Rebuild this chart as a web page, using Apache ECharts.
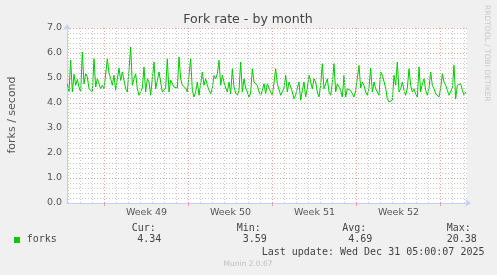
<!DOCTYPE html>
<html><head><meta charset="utf-8">
<script src="https://cdn.jsdelivr.net/npm/echarts@6/dist/echarts.min.js"></script>
<style>html,body{margin:0;padding:0;background:#f0f0f0;}#c{width:497px;height:275px;}</style>
</head><body><div id="c"></div>
<script>
// Hours relative to Mon Dec 1 2025 00:00; graph ends at Dec 31 05:00 (725 h), spans 800 h
const xMin = -75, xMax = 725;
const firstHour = -74.33, stepHours = 10 / 3;
const weekLabels = ['Week 49', 'Week 50', 'Week 51', 'Week 52'];
const weekLabelHours = [84, 252, 420, 588];
const weekBoundaryHours = [0, 168, 336, 504, 672];
const yTicks = [0, 1, 2, 3, 4, 5, 6, 7];
const forks = [
4.77,4.44,5.72,4.44,5.15,4.71,4.95,4.64,4.44,6.04,4.77,5.17,5.04,4.57,4.64,4.44,5.77,4.64,4.97,4.91,
4.57,4.71,4.57,4.50,5.77,5.20,4.97,4.71,5.11,4.51,4.44,5.40,4.90,5.24,5.17,4.57,4.44,4.37,6.24,4.71,
4.97,5.17,4.57,4.31,4.24,4.60,5.44,4.44,4.97,4.84,4.31,4.37,5.64,4.57,4.90,5.24,4.84,4.44,4.44,4.60,
5.77,4.44,4.91,4.84,4.64,4.57,4.60,5.84,4.97,4.71,4.77,4.60,4.44,4.37,5.77,4.51,4.24,4.44,4.84,4.31,
4.24,5.24,4.71,4.97,4.71,4.51,4.37,4.60,5.10,4.97,5.17,5.71,4.71,5.11,4.84,4.60,4.44,4.84,4.37,5.37,
4.64,4.40,4.31,4.50,5.64,4.44,4.97,4.60,4.44,4.24,4.40,5.37,4.84,4.91,4.70,4.44,4.31,4.50,4.77,
4.37,4.77,4.77,4.44,4.31,4.80,5.37,4.77,4.84,4.31,4.24,4.60,5.11,4.44,4.84,4.91,4.44,4.17,4.31,4.60,
4.84,4.11,4.50,4.84,4.24,4.60,5.11,5.17,4.57,4.97,4.84,4.44,4.24,4.70,5.57,4.57,4.64,4.97,4.44,4.31,
4.80,5.57,4.44,4.77,4.84,4.51,4.24,5.11,4.24,4.57,4.51,4.50,4.44,4.24,4.50,5.00,5.50,4.60,4.84,4.70,
4.44,4.31,4.60,5.40,4.44,4.84,4.57,4.44,4.31,5.24,5.11,5.17,4.60,4.17,4.04,4.04,4.11,5.11,4.71,5.64,
4.44,4.57,4.84,4.51,4.31,4.60,5.37,4.71,4.44,4.57,4.37,4.24,5.44,4.44,4.77,4.97,4.51,4.31,4.60,5.24,
4.71,4.57,4.37,4.31,4.24,4.60,5.17,4.84,4.71,4.51,4.31,4.24,4.60,5.51,4.17,4.71,4.64,4.77,4.51,4.31,4.44
];
const legendName = 'forks';
const statNames = ['Cur:', 'Min:', 'Avg:', 'Max:'];
const statValues = ['4.34', '3.59', '4.69', '20.38'];
const titleText = 'Fork rate - by month';
const yAxisTitle = 'forks / second';
const lastUpdate = 'Last update: Wed Dec 31 05:00:07 2025';
const footer = 'Munin 2.0.67';
const sideText = 'RRDTOOL / TOBI OETIKER';

const seriesData = forks.map((v, i) => [firstHour + i * stepHours, v]);
const dayHours = [];
for (let h = -72; h <= xMax; h += 24) { if (weekBoundaryHours.indexOf(h) < 0) dayHours.push(h); }
const dayLines = dayHours.map(h => ({xAxis: h}));
const weekLines = weekBoundaryHours.map(h => ({xAxis: h}));

const chart = echarts.init(document.getElementById('c'), null, {renderer: 'canvas'});
const sans = '"DejaVu Sans"';
const mono = '"DejaVu Sans Mono"';
const statX = [131.7, 236.7, 342.3, 446.7];
const valX = [137.3, 242.7, 348.3, 446.7];
const graphics = [
  {type: 'text', x: 248, y: 20, style: {text: titleText, font: '12.6px ' + sans, fill: '#444', textAlign: 'center', textVerticalAlign: 'middle'}},
  {type: 'text', x: 12, y: 115, rotation: Math.PI / 2, style: {text: yAxisTitle, font: '11px ' + sans, fill: '#555', textAlign: 'center', textVerticalAlign: 'middle'}},
  {type: 'text', x: 486.5, y: 5, rotation: -Math.PI / 2, style: {text: sideText, font: '7.5px ' + sans, fill: '#c8c8c8', textAlign: 'left', textVerticalAlign: 'middle'}},
  {type: 'rect', shape: {x: 14, y: 237, width: 6, height: 6}, style: {fill: '#00cc00'}},
  {type: 'text', x: 26.7, y: 239.5, style: {text: legendName, font: '10px ' + mono, fill: '#444', textAlign: 'left', textVerticalAlign: 'middle'}},
  {type: 'text', x: 261.7, y: 252, style: {text: lastUpdate, font: '10px ' + mono, fill: '#444', textAlign: 'left', textVerticalAlign: 'middle'}},
  {type: 'text', x: 248, y: 264, style: {text: footer, font: '7.5px ' + sans, fill: '#c0c0c0', textAlign: 'center', textVerticalAlign: 'middle'}}
];
statNames.forEach((n, i) => {
  graphics.push({type: 'text', x: statX[i], y: 228, style: {text: n, font: '10px ' + mono, fill: '#444', textAlign: 'left', textVerticalAlign: 'middle'}});
  graphics.push({type: 'text', x: valX[i], y: 239.5, style: {text: statValues[i], font: '10px ' + mono, fill: '#444', textAlign: 'left', textVerticalAlign: 'middle'}});
});

chart.setOption({
  animation: false,
  backgroundColor: '#f0f0f0',
  grid: {left: 67, top: 28, width: 400, height: 175, show: true, backgroundColor: '#ffffff', borderWidth: 0},
  xAxis: {
    type: 'value', min: xMin, max: xMax,
    axisLine: {show: true, onZero: false, lineStyle: {color: '#c8cef8', width: 1}, symbol: ['none', 'arrow'], symbolSize: [6, 6], symbolOffset: [0, 4]},
    axisTick: {show: true, customValues: weekBoundaryHours, length: 3, lineStyle: {color: '#e6a0a0', width: 1}},
    splitLine: {show: false},
    axisLabel: {
      customValues: weekLabelHours,
      formatter: v => weekLabels[weekLabelHours.indexOf(v)] || '',
      color: '#555', fontFamily: 'DejaVu Sans', fontSize: 9.5, margin: 5
    }
  },
  yAxis: {
    type: 'value', min: 0, max: 7, interval: 1,
    axisLine: {show: true, onZero: false, lineStyle: {color: '#c8cef8', width: 1}, symbol: ['none', 'arrow'], symbolSize: [6, 6], symbolOffset: [0, 4]},
    axisTick: {show: false},
    axisLabel: {formatter: v => yTicks.indexOf(v) >= 0 ? v.toFixed(1) : '', color: '#555', fontFamily: 'DejaVu Sans', fontSize: 9.5, margin: 5},
    splitLine: {show: true, lineStyle: {color: '#e6a0a0', type: [1, 2], width: 1}},
    minorTick: {show: false, splitNumber: 5},
    minorSplitLine: {show: true, lineStyle: {color: '#c8c8c8', type: [1, 2], width: 1}}
  },
  graphic: graphics,
  series: [
    {type: 'line', data: [], z: 1, silent: true,
     markLine: {silent: true, symbol: ['none', 'none'], label: {show: false}, animation: false,
       data: dayLines, lineStyle: {color: '#c8c8c8', type: [1, 2], width: 1}}},
    {type: 'line', data: [], z: 1, silent: true,
     markLine: {silent: true, symbol: ['none', 'none'], label: {show: false}, animation: false,
       data: weekLines, lineStyle: {color: '#e6a0a0', type: [1, 2], width: 1}}},
    {type: 'line', name: legendName, data: seriesData, z: 3, showSymbol: false, symbol: 'none',
     lineStyle: {color: '#00cc00', width: 1}, itemStyle: {color: '#00cc00'}}
  ]
});
</script>
</body></html>
